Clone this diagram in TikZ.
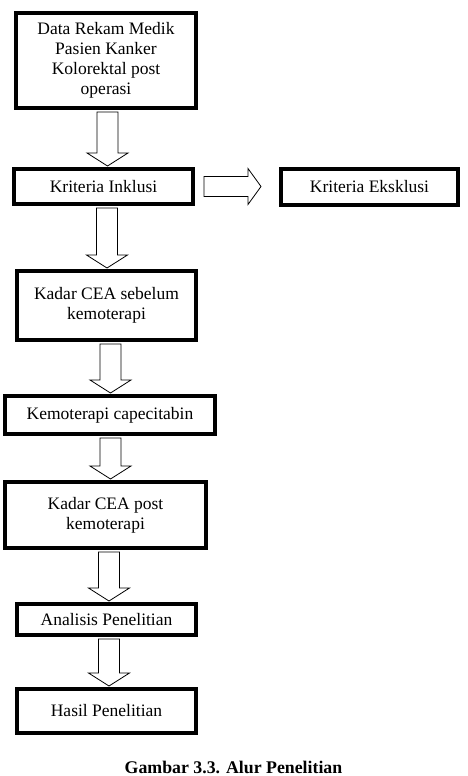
\documentclass[tikz,border=0pt]{standalone}
\usepackage{fontspec}
\setmainfont{Liberation Serif}
\usetikzlibrary{positioning,calc}

% hollow block arrow pointing down: from node, to node, x offset
\newcommand{\flowarrow}[3]{%
  \draw[blockarr] let \p1=(#1.south), \p2=(#2.north) in
    (\x1+#3pt-10.5pt,\y1-2pt) -- (\x1+#3pt+10.5pt,\y1-2pt)
    -- (\x1+#3pt+10.5pt,\y2+14pt) -- (\x1+#3pt+20.5pt,\y2+14pt)
    -- (\x1+#3pt,\y2+1pt)
    -- (\x1+#3pt-20.5pt,\y2+14pt) -- (\x1+#3pt-10.5pt,\y2+14pt) -- cycle;}

\begin{document}
\begin{tikzpicture}[x=1pt, y=1pt,
  block/.style={draw, rectangle, line width=4pt, outer sep=2pt, inner sep=0pt,
                align=center, font=\fontsize{17.5}{20}\selectfont},
  blockarr/.style={draw, line width=0.8pt, line join=miter},
  node distance=50pt
]
  \useasboundingbox (0,0) rectangle (468,-776);

  %% Boxes
  \node[block, minimum width=180pt, minimum height=95pt] (rekam) at (106,-60.5)
    {Data Rekam Medik\\Pasien Kanker\\Kolorektal post\\operasi};

  \node[block, minimum width=179pt, minimum height=35pt,
        below=57pt of rekam, xshift=-2.5pt] (inklusi) {Kriteria Inklusi};

  \node[block, minimum width=177pt, minimum height=36pt,
        right=84pt of inklusi] (eksklusi) {Kriteria Eksklusi};

  \node[block, minimum width=179pt, minimum height=69pt,
        below=63pt of inklusi, xshift=3pt] (ceapre) {Kadar CEA sebelum\\kemoterapi};

  \node[block, minimum width=210pt, minimum height=38pt,
        below=52pt of ceapre, xshift=3.5pt] (kemo) {Kemoterapi capecitabin};

  \node[block, minimum width=201pt, minimum height=66pt,
        below=44pt of kemo, xshift=-4.5pt] (ceapost) {Kadar CEA post\\kemoterapi};

  \node[block, minimum width=179pt, minimum height=31pt,
        below=52pt of ceapost, xshift=1pt] (analisis) {Analisis Penelitian};

  \node[block, minimum width=179pt, minimum height=44pt,
        below=50pt of analisis] (hasil) {Hasil Penelitian};

  \node[font=\fontsize{17.8}{20}\selectfont\bfseries, anchor=base] (judul)
    at (233.5,-773) {Gambar 3.3. Alur Penelitian};

  %% Arrows
  \flowarrow{rekam}{inklusi}{1.5}
  \flowarrow{inklusi}{ceapre}{3.5}
  \flowarrow{ceapre}{kemo}{4}
  \flowarrow{kemo}{ceapost}{0.5}
  \flowarrow{ceapost}{analisis}{3.5}
  \flowarrow{analisis}{hasil}{2.5}

  \draw[blockarr] let \p1=(inklusi.east), \p2=(eksklusi.west) in
    (\x1+9pt,\y1+10pt) -- (\x2-31pt,\y1+10pt) -- (\x2-31pt,\y1+18pt)
    -- (\x2-18pt,\y1) -- (\x2-31pt,\y1-18pt) -- (\x2-31pt,\y1-10pt)
    -- (\x1+9pt,\y1-10pt) -- cycle;

\end{tikzpicture}
\end{document}
